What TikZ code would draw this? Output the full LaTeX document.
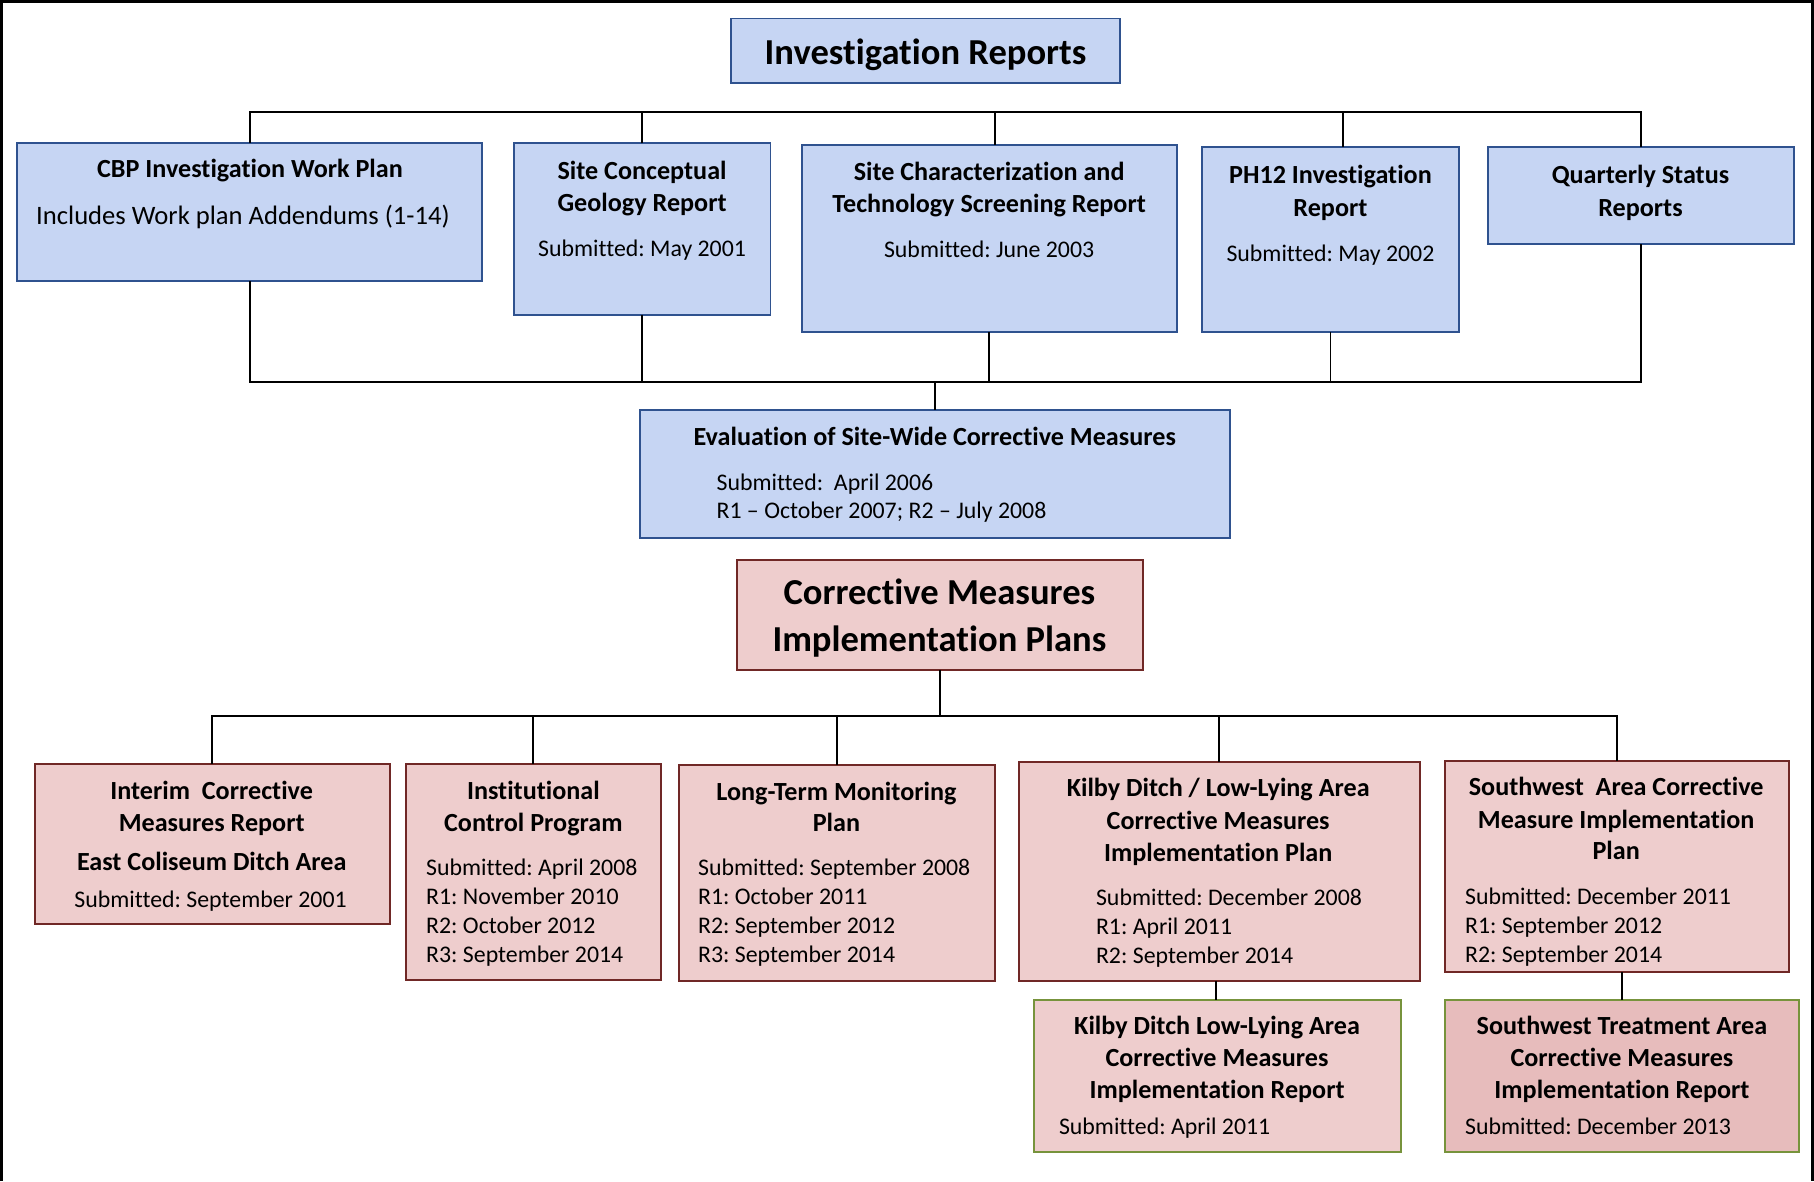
\documentclass[tikz,border=0pt]{standalone}
\usepackage{fontspec}
\setmainfont{Carlito}[Ligatures=NoCommon]
\usetikzlibrary{calc}
\frenchspacing
\definecolor{bfill}{RGB}{198,213,243}
\definecolor{bline}{RGB}{47,82,143}
\definecolor{pfill}{RGB}{238,205,205}
\definecolor{pdark}{RGB}{231,188,188}
\definecolor{rline}{RGB}{112,40,38}
\definecolor{gline}{RGB}{119,147,60}
\newcommand\mybox[6]{\node[#1, minimum width={(#4-#2)*0.5pt}, minimum height={(#5-#3)*0.5pt}] (#6) at ({(#2+#4)/2},{(#3+#5)/2}) {};}
\tikzset{
 basebox/.style={inner sep=0pt, outer sep=0pt, line width=0.85pt},
 bbox/.style={basebox, draw=bline, fill=bfill},
 rbox/.style={basebox, draw=rline, fill=pfill},
 gbox/.style={basebox, draw=gline, fill=pfill},
 gboxd/.style={basebox, draw=gline, fill=pdark},
 conn/.style={line width=0.8pt, black},
 ttl/.style={font=\fontsize{11.3}{13}\selectfont\bfseries, anchor=mid, inner sep=0pt, yshift=-1pt},
 bigt/.style={font=\fontsize{15.8}{19}\selectfont\bfseries, anchor=mid, inner sep=0pt, yshift=-2.5pt},
 subt/.style={font=\fontsize{10.3}{12}\selectfont, anchor=mid, inner sep=0pt, yshift=-0.5pt},
 subl/.style={subt, anchor=mid west},
}
\begin{document}
\begin{tikzpicture}[x=0.5pt,y=-0.5pt]
\useasboundingbox (0,0) rectangle (1568,1021);
\fill[white] (0,0) rectangle (1568,1021);
\draw[line width=1.3pt] (1.3,1021) -- (1.3,1.3) -- (1566.7,1.3) -- (1566.7,1021);

% boxes
\mybox{bbox}{632}{16}{968}{72}{ir}
\mybox{bbox}{15}{124}{417}{243}{cbp}
\mybox{bbox}{444}{124}{666}{272}{scg}
\mybox{bbox}{693}{125}{1017}{287}{scr}
\mybox{bbox}{1039}{127}{1261}{287}{ph}
\mybox{bbox}{1286}{127}{1551}{211}{qsr}
\mybox{bbox}{553}{354}{1063}{465}{ev}
\mybox{rbox}{637}{484}{988}{579}{cmip}
\mybox{rbox}{30}{660}{337}{799}{icm}
\mybox{rbox}{351}{660}{571}{847}{icp}
\mybox{rbox}{587}{661}{860}{848}{ltm}
\mybox{rbox}{881}{659}{1227}{848}{kdp}
\mybox{rbox}{1249}{658}{1546}{840}{swp}
\mybox{gbox}{894}{864}{1211}{996}{kdr}
\mybox{gboxd}{1249}{864}{1555}{996}{swt}

% connectors: investigation reports
\coordinate (topbus) at (800,97);
\coordinate (botbus) at (800,330);
\coordinate (scrT) at ($(scr.north)+(5,0)$);
\coordinate (phT) at ($(ph.north)+(11,0)$);
\draw[conn] (cbp.north) -- (cbp.north |- topbus) -- (qsr.north |- topbus) -- (qsr.north);
\draw[conn] (scg.north) -- (scg.north |- topbus);
\draw[conn] (scrT) -- (scrT |- topbus);
\draw[conn] (phT) -- (phT |- topbus);
\draw[conn] (cbp.south) -- (cbp.south |- botbus) -- (qsr.south |- botbus) -- (qsr.south);
\draw[conn] (scg.south) -- (scg.south |- botbus);
\draw[conn] (scr.south) -- (scr.south |- botbus);
\draw[conn] (ph.south) -- (ph.south |- botbus);
\draw[conn] (ev.north) -- (ev.north |- botbus);

% connectors: corrective measures
\coordinate (cmbus) at (812,619);
\coordinate (kdpB) at ($(kdp.south)+(-3,0)$);
\draw[conn] (cmip.south) -- (cmip.south |- cmbus);
\draw[conn] (icm.north) -- (icm.north |- cmbus) -- (swp.north |- cmbus) -- (swp.north);
\draw[conn] (icp.north) -- (icp.north |- cmbus);
\draw[conn] (ltm.north) -- (ltm.north |- cmbus);
\draw[conn] (kdp.north) -- (kdp.north |- cmbus);
\draw[conn] (kdpB) -- (kdpB |- kdr.north);
\draw[conn] (swt.north) -- (swt.north |- swp.south);

% texts
\node[bigt] (ir-t) at (800,46) {Investigation Reports};
\node[ttl] (cbp-t1) at (216,147) {CBP Investigation Work Plan};
\node[subt, font=\fontsize{11.5}{13}\selectfont] (cbp-t2) at (210,188) {Includes Work plan Addendums (1-14)};
\node[ttl] (scg-t1) at (555,148) {Site Conceptual};
\node[ttl] (scg-t2) at (555,176) {Geology Report};
\node[subt] (scg-t3) at (555,216) {Submitted: May 2001};
\node[ttl] (scr-t1) at (855,149) {Site Characterization and};
\node[ttl] (scr-t2) at (855,177) {Technology Screening Report};
\node[subt] (scr-t3) at (855,217) {Submitted: June 2003};
\node[ttl] (ph-t1) at (1150,152) {PH12 Investigation};
\node[ttl] (ph-t2) at (1150,180) {Report};
\node[subt] (ph-t3) at (1150,220) {Submitted: May 2002};
\node[ttl] (qsr-t1) at (1418,152) {Quarterly Status};
\node[ttl] (qsr-t2) at (1418,180) {Reports};
\node[ttl] (ev-t1) at (808,378) {Evaluation of Site-Wide Corrective Measures};
\node[subl] (ev-t2) at (619,418) {Submitted:\ \ April 2006};
\node[subl] (ev-t3) at (619,442) {R1 -- October 2007; R2 -- July 2008};
\node[bigt] (cm-t1) at (812,513) {Corrective Measures};
\node[bigt] (cm-t2) at (812,553) {Implementation Plans};

\node[ttl] (icm-t1) at (183,684) {Interim\ \ Corrective};
\node[ttl] (icm-t2) at (183,712) {Measures Report};
\node[ttl] (icm-t3) at (183,746) {East Coliseum Ditch Area};
\node[subt] (icm-t4) at (182,779) {Submitted: September 2001};

\node[ttl] (icp-t1) at (461,684) {Institutional};
\node[ttl] (icp-t2) at (461,712) {Control Program};
\node[subl] (icp-t3) at (368,751) {Submitted: April 2008};
\node[subl] (icp-t4) at (368,776) {R1: November 2010};
\node[subl] (icp-t5) at (368,801) {R2: October 2012};
\node[subl] (icp-t6) at (368,826) {R3: September 2014};

\node[ttl] (ltm-t1) at (723,685) {Long-Term Monitoring};
\node[ttl] (ltm-t2) at (723,712) {Plan};
\node[subl] (ltm-t3) at (603,751) {Submitted: September 2008};
\node[subl] (ltm-t4) at (603,776) {R1: October 2011};
\node[subl] (ltm-t5) at (603,801) {R2: September 2012};
\node[subl] (ltm-t6) at (603,826) {R3: September 2014};

\node[ttl] (kdp-t1) at (1053,682) {Kilby Ditch / Low-Lying Area};
\node[ttl] (kdp-t2) at (1053,710) {Corrective Measures};
\node[ttl] (kdp-t3) at (1053,738) {Implementation Plan};
\node[subl] (kdp-t4) at (947,777) {Submitted: December 2008};
\node[subl] (kdp-t5) at (947,802) {R1: April 2011};
\node[subl] (kdp-t6) at (947,827) {R2: September 2014};

\node[ttl] (swp-t1) at (1397,681) {Southwest\ \ Area Corrective};
\node[ttl] (swp-t2) at (1397,709) {Measure Implementation};
\node[ttl] (swp-t3) at (1397,736) {Plan};
\node[subl] (swp-t4) at (1266,776) {Submitted: December 2011};
\node[subl] (swp-t5) at (1266,801) {R1: September 2012};
\node[subl] (swp-t6) at (1266,826) {R2: September 2014};

\node[ttl] (kdr-t1) at (1052,887) {Kilby Ditch Low-Lying Area};
\node[ttl] (kdr-t2) at (1052,915) {Corrective Measures};
\node[ttl] (kdr-t3) at (1052,943) {Implementation Report};
\node[subl] (kdr-t4) at (915,975) {Submitted: April 2011};

\node[ttl] (swt-t1) at (1402,887) {Southwest Treatment Area};
\node[ttl] (swt-t2) at (1402,915) {Corrective Measures};
\node[ttl] (swt-t3) at (1402,943) {Implementation Report};
\node[subl] (swt-t4) at (1266,975) {Submitted: December 2013};
\end{tikzpicture}
\end{document}
